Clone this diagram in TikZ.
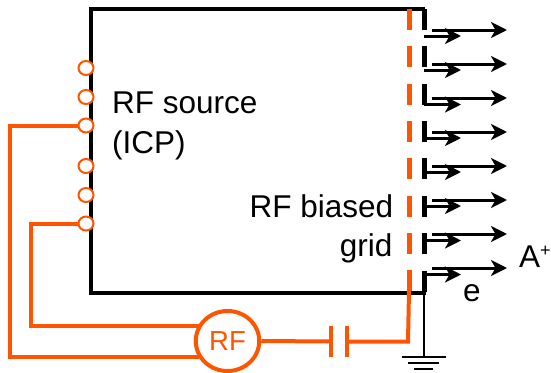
\documentclass[tikz,border=0pt]{standalone}
\usepackage{fontspec}
\setmainfont{Liberation Sans}
\usetikzlibrary{shapes.geometric, arrows.meta}
\definecolor{rforange}{HTML}{FF5500}
\tikzstyle{caption} = [inner sep=0pt, font=\fontsize{31.5}{36}\selectfont]
\tikzstyle{griddash} = [rectangle, inner sep=0pt, minimum width=5pt, minimum height=21pt, fill=rforange]
\tikzstyle{earthdash} = [rectangle, inner sep=0pt, minimum width=5pt, minimum height=21pt, fill=black]
\tikzstyle{antenna} = [ellipse, inner sep=0pt, minimum width=15pt, minimum height=14pt, draw=rforange, line width=2pt, fill=white]
\tikzstyle{wall} = [line width=4pt, line cap=rect]
\tikzstyle{wire} = [line width=4pt, draw=rforange]
\tikzstyle{plate} = [line width=4pt, draw=rforange]
\tikzstyle{earthline} = [line width=2.5pt]
\tikzstyle{arrow} = [line width=3pt, -{Stealth[length=16pt, width=16pt, inset=4.5pt]}]

\begin{document}
\begin{tikzpicture}[x=1pt, y=-1pt]
        \useasboundingbox (0,0) rectangle (551,372);

        % Chamber
        \coordinate (topright) at (423,9);
        \coordinate (topleft) at (91,9);
        \coordinate (botleft) at (91,293);
        \coordinate (botright) at (424,293);
        \draw [wall] (topright) -- (topleft) -- (botleft) -- (botright);

        % Grids
        \node (earth1) [earthdash] at (424,19.5) {};
        \node (earth2) [earthdash] at (424,56.5) {};
        \node (earth3) [earthdash] at (424,94.5) {};
        \node (earth4) [earthdash] at (424,131.5) {};
        \node (earth5) [earthdash] at (424,168.5) {};
        \node (earth6) [earthdash] at (424,206.5) {};
        \node (earth7) [earthdash] at (424,243.5) {};
        \node (earth8) [earthdash] at (424,281.5) {};
        \node (grid1) [griddash] at (409,19.5) {};
        \node (grid2) [griddash] at (409,56.5) {};
        \node (grid3) [griddash] at (409,94.5) {};
        \node (grid4) [griddash] at (409,131.5) {};
        \node (grid5) [griddash] at (409,168.5) {};
        \node (grid6) [griddash] at (409,206.5) {};
        \node (grid7) [griddash] at (409,243.5) {};
        \node (grid8) [griddash] at (409,280.5) {};

        % Antenna
        \node (loop1) [antenna] at (86,68) {};
        \node (loop2) [antenna] at (86,97) {};
        \node (loop3) [antenna] at (86,125.5) {};
        \node (loop4) [antenna] at (86,166) {};
        \node (loop5) [antenna] at (86,195) {};
        \node (loop6) [antenna] at (86,223.5) {};

        % RF circuit
        \node (rf) [ellipse, inner sep=0pt, minimum width=63.5pt, minimum height=60pt, draw=rforange, line width=4pt, fill=white, text=rforange, font=\fontsize{27.5}{30}\selectfont] at (227.5,341) {RF};
        \node (capleft) [inner sep=0pt, minimum height=31pt] at (331,341.5) {};
        \node (capright) [inner sep=0pt, minimum height=31pt] at (347,341.5) {};
        \coordinate (outerwire) at (10,125.5);
        \coordinate (outercorner) at (10,357);
        \coordinate (innerwire) at (31,223.5);
        \coordinate (innercorner) at (31,326);
        \coordinate (gridcorner) at (408,341.5);
        \coordinate (gridend) at (409,291);
        \draw [wire] (loop3.west) -- (outerwire) -- (outercorner) -- (outercorner -| rf.210);
        \draw [wire] (loop6.west) -- (innerwire) -- (innercorner) -- (innercorner -| rf.150);
        \draw [wire] (rf.east) -- (capleft.center);
        \draw [wire, line join=miter] (capright.center) -- (gridcorner) -- (gridend);
        \draw [plate] (capleft.north) -- (capleft.south);
        \draw [plate] (capright.north) -- (capright.south);

        % Ground
        \coordinate (groundtop) at (424,293);
        \coordinate (groundbot) at (424,357);
        \coordinate (ground1a) at (402,357);
        \coordinate (ground1b) at (446,357);
        \coordinate (ground2a) at (408,363);
        \coordinate (ground2b) at (439,363);
        \coordinate (ground3a) at (414,369);
        \coordinate (ground3b) at (433,369);
        \draw [earthline] (groundtop) -- (groundbot);
        \draw [earthline] (ground1a) -- (ground1b);
        \draw [earthline] (ground2a) -- (ground2b);
        \draw [earthline] (ground3a) -- (ground3b);

        % Arrows
        \coordinate (ion1a) at (432,30);
        \coordinate (ion1b) at (507,30);
        \coordinate (ion2a) at (432,64);
        \coordinate (ion2b) at (507,64);
        \coordinate (ion3a) at (432,98);
        \coordinate (ion3b) at (507,98);
        \coordinate (ion4a) at (432,132);
        \coordinate (ion4b) at (507,132);
        \coordinate (ion5a) at (432,166);
        \coordinate (ion5b) at (507,166);
        \coordinate (ion6a) at (432,200);
        \coordinate (ion6b) at (507,200);
        \coordinate (ion7a) at (432,234);
        \coordinate (ion7b) at (507,234);
        \coordinate (ion8a) at (432,268);
        \coordinate (ion8b) at (507,268);
        \coordinate (elec1a) at (424,36);
        \coordinate (elec1b) at (461,36);
        \coordinate (elec2a) at (424,70);
        \coordinate (elec2b) at (461,70);
        \coordinate (elec3a) at (424,104.5);
        \coordinate (elec3b) at (461,104.5);
        \coordinate (elec4a) at (424,138);
        \coordinate (elec4b) at (461,138);
        \coordinate (elec5a) at (424,172);
        \coordinate (elec5b) at (461,172);
        \coordinate (elec6a) at (424,206);
        \coordinate (elec6b) at (461,206);
        \coordinate (elec7a) at (424,240.5);
        \coordinate (elec7b) at (461,240.5);
        \coordinate (elec8a) at (424,274.5);
        \coordinate (elec8b) at (461,274.5);
        \draw [arrow] (ion1a) -- (ion1b);
        \draw [arrow] (ion2a) -- (ion2b);
        \draw [arrow] (ion3a) -- (ion3b);
        \draw [arrow] (ion4a) -- (ion4b);
        \draw [arrow] (ion5a) -- (ion5b);
        \draw [arrow] (ion6a) -- (ion6b);
        \draw [arrow] (ion7a) -- (ion7b);
        \draw [arrow] (ion8a) -- (ion8b);
        \draw [arrow] (elec1a) -- (elec1b);
        \draw [arrow] (elec2a) -- (elec2b);
        \draw [arrow] (elec3a) -- (elec3b);
        \draw [arrow] (elec4a) -- (elec4b);
        \draw [arrow] (elec5a) -- (elec5b);
        \draw [arrow] (elec6a) -- (elec6b);
        \draw [arrow] (elec7a) -- (elec7b);
        \draw [arrow] (elec8a) -- (elec8b);

        % Labels
        \node (source) [caption, anchor=base west] at (112,113) {RF source};
        \node (icp) [caption, anchor=base west] at (112,153) {(ICP)};
        \node (biased) [caption, anchor=base east] at (393.5,217.5) {RF biased};
        \node (gridname) [caption, anchor=base east] at (392.5,256) {grid};
        \node (ion) [caption, anchor=base west] at (519,267) {A\raisebox{11pt}{\fontsize{18}{18}\selectfont +}};
        \node (elec) [caption, anchor=base west] at (463,301) {e};
    \end{tikzpicture}
\end{document}
